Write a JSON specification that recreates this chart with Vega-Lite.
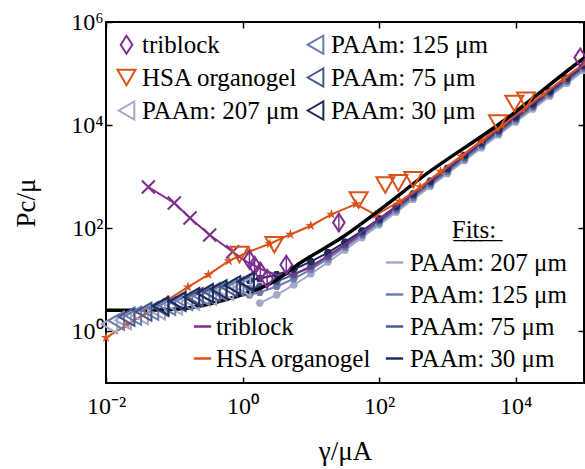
{
 "$schema": "https://vega.github.io/schema/vega-lite/v6.json",
 "width": 478,
 "height": 361,
 "autosize": {"type": "none"},
 "padding": {"left": 106, "top": 22, "right": 1, "bottom": 86},
 "config": {
  "view": {"stroke": "black", "strokeWidth": 2},
  "font": "Liberation Serif",
  "axis": {
   "labelFont": "Liberation Serif", "titleFont": "Liberation Serif",
   "labelColor": "black", "titleColor": "black",
   "labelFontSize": 24, "titleFontSize": 27, "titleFontWeight": "normal",
   "domain": false, "grid": false,
   "tickColor": "black", "tickWidth": 1.5, "tickSize": -6,
   "labelFlush": false, "labelOverlap": false
  },
  "legend": {
   "labelFont": "Liberation Serif", "labelFontSize": 25, "labelColor": "black",
   "titleFont": "Liberation Serif", "titleColor": "black",
   "padding": 0, "labelLimit": 400
  }
 },
 "datasets": {
  "pts": [
   {"series": "triblock", "x": 1.26, "y": 24.5},
   {"series": "triblock", "x": 1.5, "y": 18.8},
   {"series": "triblock", "x": 1.82, "y": 14.5},
   {"series": "triblock", "x": 2.29, "y": 10.5},
   {"series": "triblock", "x": 4.37, "y": 19.7},
   {"series": "triblock", "x": 25.7, "y": 129},
   {"series": "triblock", "x": 88100, "y": 204000},
   {"series": "HSA organogel", "x": 0.9, "y": 31},
   {"series": "HSA organogel", "x": 2.92, "y": 47.9},
   {"series": "HSA organogel", "x": 50.1, "y": 355},
   {"series": "HSA organogel", "x": 123, "y": 692},
   {"series": "HSA organogel", "x": 191, "y": 759},
   {"series": "HSA organogel", "x": 316, "y": 871},
   {"series": "HSA organogel", "x": 5495, "y": 10960},
   {"series": "HSA organogel", "x": 9550, "y": 26300},
   {"series": "HSA organogel", "x": 14130, "y": 30200},
   {"series": "PAAm: 207 μm", "x": 0.0112, "y": 1.38},
   {"series": "PAAm: 207 μm", "x": 0.0178, "y": 1.65},
   {"series": "PAAm: 207 μm", "x": 0.0316, "y": 2.05},
   {"series": "PAAm: 207 μm", "x": 0.0562, "y": 2.55},
   {"series": "PAAm: 207 μm", "x": 0.1, "y": 3.18},
   {"series": "PAAm: 207 μm", "x": 0.178, "y": 3.95},
   {"series": "PAAm: 207 μm", "x": 0.316, "y": 4.92},
   {"series": "PAAm: 207 μm", "x": 0.562, "y": 6.12},
   {"series": "PAAm: 207 μm", "x": 1.0, "y": 7.3},
   {"series": "PAAm: 125 μm", "x": 0.0141, "y": 1.62},
   {"series": "PAAm: 125 μm", "x": 0.0251, "y": 2.01},
   {"series": "PAAm: 125 μm", "x": 0.0447, "y": 2.51},
   {"series": "PAAm: 125 μm", "x": 0.0794, "y": 3.12},
   {"series": "PAAm: 125 μm", "x": 0.141, "y": 3.88},
   {"series": "PAAm: 125 μm", "x": 0.251, "y": 4.83},
   {"series": "PAAm: 125 μm", "x": 0.447, "y": 6.01},
   {"series": "PAAm: 125 μm", "x": 0.794, "y": 7.48},
   {"series": "PAAm: 75 μm", "x": 0.02, "y": 1.93},
   {"series": "PAAm: 75 μm", "x": 0.0355, "y": 2.4},
   {"series": "PAAm: 75 μm", "x": 0.063, "y": 2.99},
   {"series": "PAAm: 75 μm", "x": 0.112, "y": 3.72},
   {"series": "PAAm: 75 μm", "x": 0.2, "y": 4.63},
   {"series": "PAAm: 75 μm", "x": 0.355, "y": 5.77},
   {"series": "PAAm: 75 μm", "x": 0.631, "y": 7.18},
   {"series": "PAAm: 75 μm", "x": 1.12, "y": 8.93},
   {"series": "PAAm: 30 μm", "x": 0.063, "y": 3.13},
   {"series": "PAAm: 30 μm", "x": 0.112, "y": 3.9},
   {"series": "PAAm: 30 μm", "x": 0.178, "y": 4.65},
   {"series": "PAAm: 30 μm", "x": 0.282, "y": 5.53},
   {"series": "PAAm: 30 μm", "x": 0.447, "y": 6.59},
   {"series": "PAAm: 30 μm", "x": 0.708, "y": 7.85},
   {"series": "PAAm: 30 μm", "x": 1.12, "y": 9.35}
  ],
  "paamfit": [
   {"series": "PAAm: 207 μm", "x": 1.78, "y": 3.55},
   {"series": "PAAm: 207 μm", "x": 3.16, "y": 5.13},
   {"series": "PAAm: 207 μm", "x": 5.62, "y": 7.96},
   {"series": "PAAm: 207 μm", "x": 10, "y": 13},
   {"series": "PAAm: 207 μm", "x": 17.8, "y": 22},
   {"series": "PAAm: 207 μm", "x": 31.6, "y": 37.8},
   {"series": "PAAm: 207 μm", "x": 56.2, "y": 66.1},
   {"series": "PAAm: 207 μm", "x": 100, "y": 116.5},
   {"series": "PAAm: 207 μm", "x": 178, "y": 206},
   {"series": "PAAm: 207 μm", "x": 316, "y": 365},
   {"series": "PAAm: 207 μm", "x": 562, "y": 648},
   {"series": "PAAm: 207 μm", "x": 1000, "y": 1152},
   {"series": "PAAm: 207 μm", "x": 1780, "y": 2049},
   {"series": "PAAm: 207 μm", "x": 3160, "y": 3636},
   {"series": "PAAm: 207 μm", "x": 5620, "y": 6465},
   {"series": "PAAm: 207 μm", "x": 10000, "y": 11502},
   {"series": "PAAm: 207 μm", "x": 17800, "y": 20472},
   {"series": "PAAm: 207 μm", "x": 31600, "y": 36342},
   {"series": "PAAm: 207 μm", "x": 56200, "y": 64632},
   {"series": "PAAm: 207 μm", "x": 100000, "y": 115002},
   {"series": "PAAm: 125 μm", "x": 1.26, "y": 5.1},
   {"series": "PAAm: 125 μm", "x": 1.78, "y": 5.73},
   {"series": "PAAm: 125 μm", "x": 3.16, "y": 7.45},
   {"series": "PAAm: 125 μm", "x": 5.62, "y": 10.5},
   {"series": "PAAm: 125 μm", "x": 10, "y": 16},
   {"series": "PAAm: 125 μm", "x": 17.8, "y": 25.8},
   {"series": "PAAm: 125 μm", "x": 31.6, "y": 43},
   {"series": "PAAm: 125 μm", "x": 56.2, "y": 73.8},
   {"series": "PAAm: 125 μm", "x": 100, "y": 128.5},
   {"series": "PAAm: 125 μm", "x": 178, "y": 226},
   {"series": "PAAm: 125 μm", "x": 316, "y": 398.5},
   {"series": "PAAm: 125 μm", "x": 562, "y": 706},
   {"series": "PAAm: 125 μm", "x": 1000, "y": 1254},
   {"series": "PAAm: 125 μm", "x": 1780, "y": 2229},
   {"series": "PAAm: 125 μm", "x": 3160, "y": 3954},
   {"series": "PAAm: 125 μm", "x": 5620, "y": 7029},
   {"series": "PAAm: 125 μm", "x": 10000, "y": 12504},
   {"series": "PAAm: 125 μm", "x": 17800, "y": 22254},
   {"series": "PAAm: 125 μm", "x": 31600, "y": 39504},
   {"series": "PAAm: 125 μm", "x": 56200, "y": 70254},
   {"series": "PAAm: 125 μm", "x": 100000, "y": 125004},
   {"series": "PAAm: 75 μm", "x": 1.26, "y": 6.7},
   {"series": "PAAm: 75 μm", "x": 1.78, "y": 7.4},
   {"series": "PAAm: 75 μm", "x": 3.16, "y": 9.27},
   {"series": "PAAm: 75 μm", "x": 5.62, "y": 12.6},
   {"series": "PAAm: 75 μm", "x": 10, "y": 18.5},
   {"series": "PAAm: 75 μm", "x": 17.8, "y": 29},
   {"series": "PAAm: 75 μm", "x": 31.6, "y": 47.7},
   {"series": "PAAm: 75 μm", "x": 56.2, "y": 80.9},
   {"series": "PAAm: 75 μm", "x": 100, "y": 140},
   {"series": "PAAm: 75 μm", "x": 178, "y": 245},
   {"series": "PAAm: 75 μm", "x": 316, "y": 432},
   {"series": "PAAm: 75 μm", "x": 562, "y": 764},
   {"series": "PAAm: 75 μm", "x": 1000, "y": 1355},
   {"series": "PAAm: 75 μm", "x": 1780, "y": 2408},
   {"series": "PAAm: 75 μm", "x": 3160, "y": 4271},
   {"series": "PAAm: 75 μm", "x": 5620, "y": 7592},
   {"series": "PAAm: 75 μm", "x": 10000, "y": 13505},
   {"series": "PAAm: 75 μm", "x": 17800, "y": 24035},
   {"series": "PAAm: 75 μm", "x": 31600, "y": 42665},
   {"series": "PAAm: 75 μm", "x": 56200, "y": 75875},
   {"series": "PAAm: 75 μm", "x": 100000, "y": 135005},
   {"series": "PAAm: 30 μm", "x": 1.26, "y": 9.8},
   {"series": "PAAm: 30 μm", "x": 1.78, "y": 10.6},
   {"series": "PAAm: 30 μm", "x": 3.16, "y": 12.6},
   {"series": "PAAm: 30 μm", "x": 5.62, "y": 16.1},
   {"series": "PAAm: 30 μm", "x": 10, "y": 22.5},
   {"series": "PAAm: 30 μm", "x": 17.8, "y": 33.8},
   {"series": "PAAm: 30 μm", "x": 31.6, "y": 53.8},
   {"series": "PAAm: 30 μm", "x": 56.2, "y": 89.5},
   {"series": "PAAm: 30 μm", "x": 100, "y": 153},
   {"series": "PAAm: 30 μm", "x": 178, "y": 266},
   {"series": "PAAm: 30 μm", "x": 316, "y": 466},
   {"series": "PAAm: 30 μm", "x": 562, "y": 823},
   {"series": "PAAm: 30 μm", "x": 1000, "y": 1458},
   {"series": "PAAm: 30 μm", "x": 1780, "y": 2589},
   {"series": "PAAm: 30 μm", "x": 3160, "y": 4590},
   {"series": "PAAm: 30 μm", "x": 5620, "y": 8157},
   {"series": "PAAm: 30 μm", "x": 10000, "y": 14508},
   {"series": "PAAm: 30 μm", "x": 17800, "y": 25818},
   {"series": "PAAm: 30 μm", "x": 31600, "y": 45828},
   {"series": "PAAm: 30 μm", "x": 56200, "y": 81498},
   {"series": "PAAm: 30 μm", "x": 100000, "y": 145008}
  ],
  "fits": [
   {"series": "triblock", "x": 0.0417, "y": 630},
   {"series": "triblock", "x": 0.1, "y": 309},
   {"series": "triblock", "x": 0.17, "y": 158},
   {"series": "triblock", "x": 0.33, "y": 74},
   {"series": "triblock", "x": 0.716, "y": 35},
   {"series": "triblock", "x": 1.15, "y": 22.4},
   {"series": "triblock", "x": 2, "y": 15.5},
   {"series": "triblock", "x": 3.16, "y": 12.6},
   {"series": "triblock", "x": 5.62, "y": 12.9},
   {"series": "triblock", "x": 10, "y": 17.5},
   {"series": "triblock", "x": 31.6, "y": 48.2},
   {"series": "triblock", "x": 100, "y": 150},
   {"series": "triblock", "x": 1000, "y": 1500},
   {"series": "triblock", "x": 10000, "y": 15000},
   {"series": "triblock", "x": 100000, "y": 150000},
   {"series": "HSA organogel", "x": 0.01, "y": 0.76},
   {"series": "HSA organogel", "x": 0.02, "y": 1.32},
   {"series": "HSA organogel", "x": 0.04, "y": 2.34},
   {"series": "HSA organogel", "x": 0.079, "y": 4.07},
   {"series": "HSA organogel", "x": 0.158, "y": 7.24},
   {"series": "HSA organogel", "x": 0.316, "y": 12.6},
   {"series": "HSA organogel", "x": 0.631, "y": 23.4},
   {"series": "HSA organogel", "x": 1.26, "y": 35.5},
   {"series": "HSA organogel", "x": 2.51, "y": 50.1},
   {"series": "HSA organogel", "x": 5.01, "y": 75.9},
   {"series": "HSA organogel", "x": 10, "y": 112},
   {"series": "HSA organogel", "x": 20, "y": 186},
   {"series": "HSA organogel", "x": 45.7, "y": 295},
   {"series": "HSA organogel", "x": 89, "y": 182},
   {"series": "HSA organogel", "x": 200, "y": 331},
   {"series": "HSA organogel", "x": 398, "y": 631},
   {"series": "HSA organogel", "x": 794, "y": 1259},
   {"series": "HSA organogel", "x": 1585, "y": 2512},
   {"series": "HSA organogel", "x": 3162, "y": 5012},
   {"series": "HSA organogel", "x": 6310, "y": 10000},
   {"series": "HSA organogel", "x": 12590, "y": 19950},
   {"series": "HSA organogel", "x": 25120, "y": 39810},
   {"series": "HSA organogel", "x": 50120, "y": 79430},
   {"series": "HSA organogel", "x": 100000, "y": 158500}
  ],
  "black": [
   {"x": 0.01, "y": 2.57},
   {"x": 0.0316, "y": 2.57},
   {"x": 0.1, "y": 2.69},
   {"x": 0.17, "y": 2.88},
   {"x": 0.716, "y": 4.52},
   {"x": 2.73, "y": 8.85},
   {"x": 7.41, "y": 22.4},
   {"x": 28.5, "y": 66.1},
   {"x": 138, "y": 309},
   {"x": 376, "y": 871},
   {"x": 6918, "y": 12590},
   {"x": 79430, "y": 158500},
   {"x": 100000, "y": 199500}
  ],
  "err": [
   {"x": 1.26, "lo": 17, "hi": 34},
   {"x": 1.5, "lo": 13, "hi": 26},
   {"x": 1.82, "lo": 10.5, "hi": 20},
   {"x": 2.29, "lo": 6.5, "hi": 15},
   {"x": 4.37, "lo": 14, "hi": 27},
   {"x": 25.7, "lo": 85, "hi": 195}
  ]
 },
 "layer": [
  {
   "data": {"name": "paamfit"},
   "mark": {"type": "line", "strokeWidth": 2, "clip": true},
   "encoding": {
    "x": {"field": "x", "type": "quantitative", "scale": {"type": "log", "domain": [0.01, 100000], "nice": false}, "axis": null},
    "y": {"field": "y", "type": "quantitative", "scale": {"type": "log", "domain": [0.1, 1000000], "nice": false}, "axis": null},
    "stroke": {"field": "series", "type": "nominal",
     "scale": {"domain": ["triblock", "HSA organogel", "PAAm: 207 μm", "PAAm: 125 μm", "PAAm: 75 μm", "PAAm: 30 μm"],
      "range": ["#7E2F8E", "#D95319", "#A1A8C8", "#6D7BAA", "#46568C", "#1C2A5C"]}}
   }
  },
  {
   "data": {"name": "paamfit"},
   "mark": {"type": "point", "filled": true, "opacity": 1, "size": 70, "shape": "M-1,0L-0.5,-0.866L0.5,-0.866L1,0L0.5,0.866L-0.5,0.866Z"},
   "encoding": {
    "x": {"field": "x", "type": "quantitative", "scale": {"type": "log", "domain": [0.01, 100000], "nice": false}, "axis": null},
    "y": {"field": "y", "type": "quantitative", "scale": {"type": "log", "domain": [0.1, 1000000], "nice": false}, "axis": null},
    "fill": {"field": "series", "type": "nominal",
     "scale": {"domain": ["PAAm: 207 μm", "PAAm: 125 μm", "PAAm: 75 μm", "PAAm: 30 μm"], "range": ["#A1A8C8", "#6D7BAA", "#46568C", "#1C2A5C"]},
     "legend": {"orient": "none", "legendX": 276, "legendY": 196, "title": "F̲i̲t̲s̲:̲", "titleFontSize": 25, "titleFontWeight": "normal", "titleAnchor": "middle", "titlePadding": 7,
      "titleFont": "Liberation Serif", "labelFont": "Liberation Serif",
      "symbolType": "M-1,-0.14L1,-0.14L1,0.14L-1,0.14Z", "symbolSize": 300, "symbolStrokeWidth": 0, "rowPadding": 6, "labelOffset": 3}}
   }
  },
  {
   "data": {"name": "fits"},
   "mark": {"type": "line", "strokeWidth": 2, "clip": true},
   "encoding": {
    "x": {"field": "x", "type": "quantitative", "scale": {"type": "log", "domain": [0.01, 100000], "nice": false}, "axis": null},
    "y": {"field": "y", "type": "quantitative", "scale": {"type": "log", "domain": [0.1, 1000000], "nice": false}, "axis": null},
    "color": {"field": "series", "type": "nominal",
     "scale": {"domain": ["triblock", "HSA organogel"], "range": ["#7E2F8E", "#D95319"]},
     "legend": {"orient": "none", "legendX": 84, "legendY": 292, "title": null, "labelFont": "Liberation Serif", "symbolType": "stroke", "symbolSize": 300, "symbolStrokeWidth": 2.5, "rowPadding": 6, "labelOffset": 1}}
   }
  },
  {
   "data": {"name": "fits"},
   "transform": [{"filter": "datum.series == 'triblock' && datum.x < 1"}],
   "mark": {"type": "point", "filled": false, "opacity": 1, "size": 170, "strokeWidth": 2, "color": "#7E2F8E", "shape": "M-1,-1L1,1M-1,1L1,-1"},
   "encoding": {
    "x": {"field": "x", "type": "quantitative", "scale": {"type": "log", "domain": [0.01, 100000], "nice": false}, "axis": null},
    "y": {"field": "y", "type": "quantitative", "scale": {"type": "log", "domain": [0.1, 1000000], "nice": false}, "axis": null}
   }
  },
  {
   "data": {"name": "fits"},
   "transform": [{"filter": "datum.series == 'HSA organogel'"}],
   "mark": {"type": "point", "filled": true, "opacity": 1, "size": 120, "color": "#D95319", "shape": "M0,-1L0.223,-0.307L0.951,-0.309L0.361,0.117L0.588,0.809L0,0.38L-0.588,0.809L-0.361,0.117L-0.951,-0.309L-0.223,-0.307Z"},
   "encoding": {
    "x": {"field": "x", "type": "quantitative", "scale": {"type": "log", "domain": [0.01, 100000], "nice": false}, "axis": null},
    "y": {"field": "y", "type": "quantitative", "scale": {"type": "log", "domain": [0.1, 1000000], "nice": false}, "axis": null}
   }
  },
  {
   "data": {"name": "black"},
   "mark": {"type": "line", "color": "black", "strokeWidth": 3.5, "interpolate": "monotone", "clip": true},
   "encoding": {
    "x": {"field": "x", "type": "quantitative", "scale": {"type": "log", "domain": [0.01, 100000], "nice": false},
     "axis": {"orient": "top", "values": [0.01, 1, 100, 10000], "labels": false, "title": null}},
    "y": {"field": "y", "type": "quantitative", "scale": {"type": "log", "domain": [0.1, 1000000], "nice": false},
     "axis": {"orient": "right", "values": [1, 100, 10000, 1000000], "labels": false, "title": null}}
   }
  },
  {
   "data": {"name": "err"},
   "mark": {"type": "rule", "color": "#7E2F8E", "strokeWidth": 1.5},
   "encoding": {
    "x": {"field": "x", "type": "quantitative", "scale": {"type": "log", "domain": [0.01, 100000], "nice": false}, "axis": null},
    "y": {"field": "lo", "type": "quantitative", "scale": {"type": "log", "domain": [0.1, 1000000], "nice": false}, "axis": null},
    "y2": {"field": "hi"}
   }
  },
  {
   "data": {"name": "pts"},
   "mark": {"type": "point", "filled": false, "opacity": 1, "strokeWidth": 2},
   "encoding": {
    "x": {"field": "x", "type": "quantitative", "scale": {"type": "log", "domain": [0.01, 100000], "nice": false},
     "axis": {"orient": "bottom", "values": [0.01, 1, 100, 10000], "title": "γ/μA", "labelPadding": 17, "titlePadding": 20,
      "labelExpr": "datum.value < 0.1 ? '10⁻²' : datum.value < 10 ? '10⁰' : datum.value < 1000 ? '10²' : '10⁴'"}},
    "y": {"field": "y", "type": "quantitative", "scale": {"type": "log", "domain": [0.1, 1000000], "nice": false},
     "axis": {"orient": "left", "values": [1, 100, 10000, 1000000], "title": "Pc/μ", "labelPadding": 9, "titlePadding": 30,
      "labelExpr": "datum.value < 10 ? '10⁰' : datum.value < 1000 ? '10²' : datum.value < 100000 ? '10⁴' : '10⁶'"}},
    "stroke": {"field": "series", "type": "nominal",
     "scale": {"domain": ["triblock", "HSA organogel", "PAAm: 207 μm", "PAAm: 125 μm", "PAAm: 75 μm", "PAAm: 30 μm"],
      "range": ["#7E2F8E", "#D95319", "#A1A8C8", "#6D7BAA", "#46568C", "#1C2A5C"]},
     "legend": {"orient": "none", "legendX": 8, "legendY": 10, "title": null, "labelFont": "Liberation Serif", "columns": 2, "columnPadding": 4, "rowPadding": 6, "labelOffset": 3, "symbolSize": 260, "symbolStrokeWidth": 2, "symbolFillColor": "transparent"}},
    "shape": {"field": "series", "type": "nominal",
     "scale": {"domain": ["triblock", "HSA organogel", "PAAm: 207 μm", "PAAm: 125 μm", "PAAm: 75 μm", "PAAm: 30 μm"],
      "range": ["M0,-1L0.65,0L0,1L-0.65,0Z", "triangle-down", "triangle-left", "triangle-left", "triangle-left", "triangle-left"]},
     "legend": {"orient": "none", "legendX": 8, "legendY": 10, "title": null, "labelFont": "Liberation Serif", "columns": 2, "columnPadding": 4, "rowPadding": 6, "labelOffset": 3, "symbolSize": 260, "symbolStrokeWidth": 2, "symbolFillColor": "transparent"}},
    "size": {"field": "series", "type": "nominal",
     "scale": {"domain": ["triblock", "HSA organogel", "PAAm: 207 μm", "PAAm: 125 μm", "PAAm: 75 μm", "PAAm: 30 μm"],
      "range": [320, 330, 230, 230, 230, 230]},
     "legend": {"orient": "none", "legendX": 8, "legendY": 10, "title": null, "labelFont": "Liberation Serif", "columns": 2, "columnPadding": 4, "rowPadding": 6, "labelOffset": 3, "symbolStrokeWidth": 2, "symbolFillColor": "transparent"}}
   }
  }
 ],
 "resolve": {"axis": {"x": "independent", "y": "independent"}}
}
